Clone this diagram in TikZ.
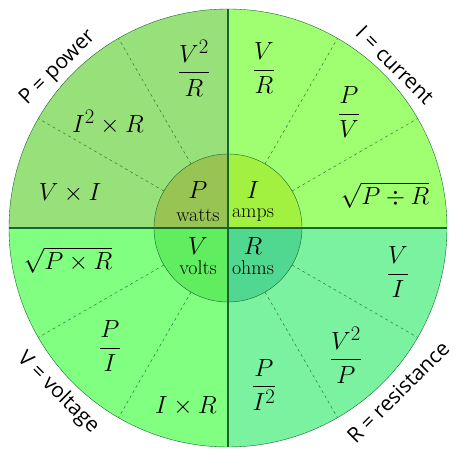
\documentclass[tikz,border=0pt]{standalone}
\usepackage{amsmath}
\usepackage{fontspec}
\newfontfamily\ringfont{Open Sans}
\usetikzlibrary{positioning,calc}

\definecolor{edge}{HTML}{17652F}
\definecolor{powerout}{HTML}{98E07A}
\definecolor{currout}{HTML}{A0FF70}
\definecolor{voltout}{HTML}{80FF80}
\definecolor{resout}{HTML}{7AF2A0}
\definecolor{powerin}{HTML}{98C454}
\definecolor{currin}{HTML}{A2F040}
\definecolor{voltin}{HTML}{60EE60}
\definecolor{resin}{HTML}{50D890}

\begin{document}
\begin{tikzpicture}[x=1bp,y=1bp,
	formula/.style={font=\fontsize{29}{32}\selectfont},
	qty/.style={font=\fontsize{28}{30}\selectfont},
	unitname/.style={font=\fontsize{20}{22}\selectfont},
	ringlabel/.style={font=\ringfont\fontsize{21}{24}\selectfont},
	spoke/.style={thin,dashed,draw=edge},
	axis/.style={draw=edge,line width=1.8bp}]
	\useasboundingbox (-228,-228) rectangle (235,228);
	
	% outer quadrants
	\fill[powerout] (0,0) -- (180:219) arc (180:90:219) -- cycle;
	\fill[currout] (0,0) -- (90:219) arc (90:0:219) -- cycle;
	\fill[voltout] (0,0) -- (270:219) arc (270:180:219) -- cycle;
	\fill[resout] (0,0) -- (0:219) arc (360:270:219) -- cycle;
	
	% dashed spokes
	\foreach \a in {30,60,120,150,210,240,300,330}{
		\draw[spoke] (\a:74) -- (\a:219);
	}
	
	% inner quadrants
	\fill[powerin] (0,0) -- (180:74) arc (180:90:74) -- cycle;
	\fill[currin] (0,0) -- (90:74) arc (90:0:74) -- cycle;
	\fill[voltin] (0,0) -- (270:74) arc (270:180:74) -- cycle;
	\fill[resin] (0,0) -- (0:74) arc (360:270:74) -- cycle;
	
	% circles and axes
	\draw[edge] (0,0) circle (219);
	\draw[edge] (0,0) circle (74);
	\draw[axis] (-219,0) -- (219,0);
	\draw[axis] (0,-219) -- (0,219);
	
	% quantities
	\node[qty] (P) at (-30,38) {$P$};
	\node[unitname] (watts) at (-30,13) {watts};
	\node[qty] (I) at (25,38) {$I$};
	\node[unitname] (amps) at (25,13) {amps};
	\node[qty] (V) at (-30,-18) {$V$};
	\node[unitname] (volts) at (-30,-40) {volts};
	\node[qty] (R) at (25,-18) {$R$};
	\node[unitname] (ohms) at (25,-40) {ohms};
	
	% power formulas
	\node[formula] (vsqr) at (-34,160) {$\dfrac{V^2}{R}$};
	\node[formula] (isqr) at (-120,106) {$I^2\times R$};
	\node[formula] (vi) at (-158,35) {$V\times I$};
	
	% current formulas
	\node[formula] (vr) at (36,160) {$\dfrac{V}{R}$};
	\node[formula] (pv) at (121,116) {$\dfrac{P}{V}$};
	\node[formula] (sqpr) at (157,33) {$\sqrt{P\div R}$};
	
	% voltage formulas
	\node[formula] (sqptr) at (-160,-32) {$\sqrt{P\times R}$};
	\node[formula] (pi) at (-118,-118) {$\dfrac{P}{I}$};
	\node[formula] (ir) at (-42,-178) {$I\times R$};
	
	% resistance formulas
	\node[formula] (vovi) at (170,-44) {$\dfrac{V}{I}$};
	\node[formula] (vsqp) at (118,-127) {$\dfrac{V^2}{P}$};
	\node[formula] (pisq) at (36,-157) {$\dfrac{P}{I^2}$};
	
	% ring labels
	\node[ringlabel,rotate=45] (power) at (-170,160) {P = power};
	\node[ringlabel,rotate=-45] (current) at (167,163) {I = current};
	\node[ringlabel,rotate=-45] (voltage) at (-170,-165) {V = voltage};
	\node[ringlabel,rotate=45] (resistance) at (170,-164) {R = resistance};
\end{tikzpicture}
\end{document}
